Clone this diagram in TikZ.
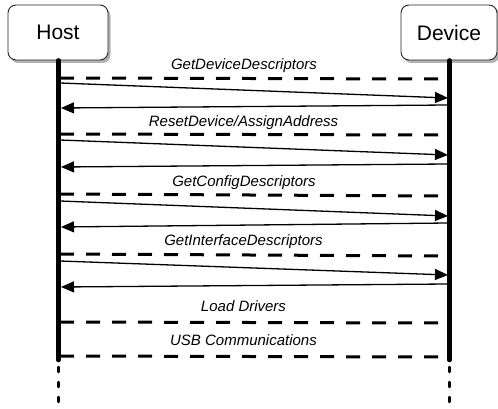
\documentclass[tikz,border=0pt]{standalone}
\usepackage{fontspec}
\setmainfont{Liberation Sans}
\usetikzlibrary{arrows.meta,shadows}
\begin{document}
\begin{tikzpicture}[x=1pt,y=-1pt,
  actor/.style={draw=black!85,line width=0.9pt,rounded corners=8pt,fill=white,
    minimum height=55pt,font=\fontsize{21}{24}\selectfont,
    drop shadow={shadow xshift=2.5pt,shadow yshift=-3pt,opacity=0.3,fill=black}},
  lifeline/.style={line width=4.5pt,line cap=round},
  tail/.style={line width=2.5pt,line cap=round,dash pattern=on 5pt off 10pt},
  phase/.style={line width=3pt,dash pattern=on 14pt off 12pt},
  msg/.style={line width=1.3pt,-{Triangle[length=13pt,width=11pt]}},
  lbl/.style={font=\fontsize{15}{18}\selectfont\itshape,anchor=base}]
\useasboundingbox (0,0) rectangle (498,409);
\node[actor,minimum width=100pt] (host) at (58,32.5) {Host};
\node[actor,minimum width=96pt] (device) at (449,32.5) {Device};
% lifelines
\coordinate (hend) at (58.5,360);
\coordinate (dend) at (449.5,360);
\coordinate (htail) at (58.5,367);
\coordinate (dtail) at (449.5,367);
\coordinate (hbot) at (58.5,412);
\coordinate (dbot) at (449.5,412);
\draw[lifeline] (host.south) ++(0.5,0) -- (hend);
\draw[lifeline] (device.south) ++(0.5,0) -- (dend);
\draw[tail] (htail) -- (hbot);
\draw[tail] (dtail) -- (dbot);
% message end points
\foreach \n/\d/\dr/\a/\b/\c/\e in {1/78/79/83/98/105/108,2/134/135/140/155/164/167,
  3/194/196/201/216/223/227,4/254/256/261/275/284/287}{
  \coordinate (p\n h) at (60,\d);
  \coordinate (p\n d) at (440,\dr);
  \coordinate (q\n h) at (60,\a);
  \coordinate (q\n d) at (448,\b);
  \coordinate (r\n d) at (448,\c);
  \coordinate (r\n h) at (61,\e);
}
\coordinate (p5h) at (60,322);
\coordinate (p5d) at (440,323);
\coordinate (p6h) at (60,356);
\coordinate (p6d) at (440,357);
\foreach \n in {1,2,3,4}{
  \draw[phase] (p\n h) -- (p\n d);
  \draw[msg] (q\n h) -- (q\n d);
  \draw[msg] (r\n d) -- (r\n h);
}
\draw[phase] (p5h) -- (p5d);
\draw[phase] (p6h) -- (p6d);
% labels
\node[lbl] (l1) at (244,70) {GetDeviceDescriptors};
\node[lbl] (l2) at (243.5,126.5) {ResetDevice/AssignAddress};
\node[lbl] (l3) at (244,186) {GetConfigDescriptors};
\node[lbl] (l4) at (243.5,245) {GetInterfaceDescriptors};
\node[lbl] (l5) at (243.5,311) {Load Drivers};
\node[lbl] (l6) at (243.5,345) {USB Communications};
\end{tikzpicture}
\end{document}
